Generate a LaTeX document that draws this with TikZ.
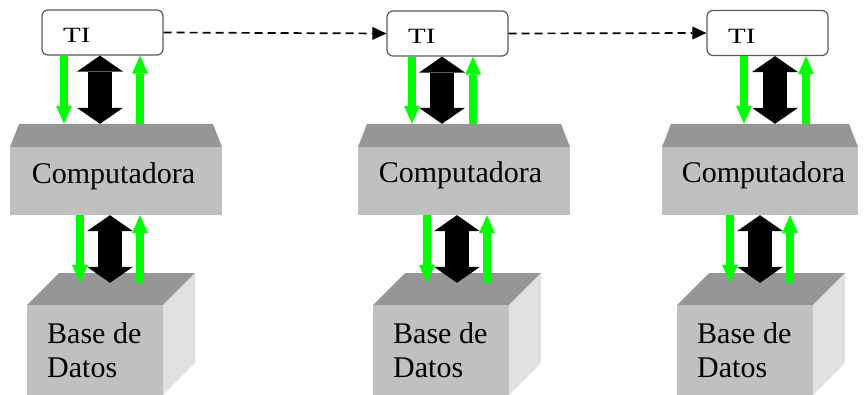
\documentclass[tikz,border=0pt]{standalone}
\usepackage{fontspec}
\setmainfont{Liberation Serif}
\usetikzlibrary{arrows.meta}
\definecolor{topgray}{HTML}{969696}
\definecolor{frontgray}{HTML}{C0C0C0}
\definecolor{sidegray}{HTML}{E0E0E0}
\definecolor{brightgreen}{HTML}{00FF00}
\tikzset{
  tibox/.style={draw=black!65, line width=1.2pt, rounded corners=6pt, fill=white,
    minimum width=121pt, minimum height=45pt, inner sep=0pt},
  titext/.style={anchor=base west, inner sep=0pt, font=\fontsize{29}{30}\selectfont},
  comptext/.style={anchor=base, inner sep=0pt, font=\fontsize{30}{36}\selectfont},
  dbtext/.style={anchor=base west, inner sep=0pt, align=left, font=\fontsize{30}{34}\selectfont},
  compblock/.style={inner sep=0pt, minimum width=#1, minimum height=91pt, path picture={
    \fill[topgray] ([xshift=9pt]path picture bounding box.north west)
      -- ([xshift=-9pt]path picture bounding box.north east)
      -- ([yshift=-23pt]path picture bounding box.north east)
      -- ([yshift=-23pt]path picture bounding box.north west) -- cycle;
    \fill[frontgray] ([yshift=-23pt]path picture bounding box.north west)
      rectangle (path picture bounding box.south east);
  }},
  dbblock/.style={inner sep=0pt, minimum width=168pt, minimum height=122pt, path picture={
    \fill[topgray] ([xshift=32pt]path picture bounding box.north west)
      -- (path picture bounding box.north east)
      -- ([xshift=-32pt,yshift=-32pt]path picture bounding box.north east)
      -- ([yshift=-32pt]path picture bounding box.north west) -- cycle;
    \fill[frontgray] ([yshift=-32pt]path picture bounding box.north west)
      rectangle ([xshift=-32pt]path picture bounding box.south east);
    \fill[sidegray] ([xshift=-32pt,yshift=-32pt]path picture bounding box.north east)
      -- (path picture bounding box.north east)
      -- ([yshift=32pt]path picture bounding box.south east)
      -- ([xshift=-32pt]path picture bounding box.south east) -- cycle;
  }},
  garrow/.style={brightgreen, line width=8pt, -{Triangle[length=18pt,width=16pt,line width=0pt]}},
  barrow/.style={black, line width=24pt,
    {Triangle[length=16pt,width=46pt,line width=0pt]}-{Triangle[length=16pt,width=46pt,line width=0pt]}},
  dasharrow/.style={black, line width=1.7pt, dash pattern=on 8pt off 5pt,
    -{Triangle[length=14pt,width=13pt,line width=0pt]}},
}
\begin{document}
\begin{tikzpicture}[x=1pt,y=-1pt]
\useasboundingbox (0,0) rectangle (866,395);

% blocks
\node[compblock=212pt] (c1) at (116,169.5) {};
\node[compblock=212pt] (c2) at (464,169.5) {};
\node[compblock=196pt] (c3) at (760,169.5) {};
\node[comptext] (c1t) at (113.5,184) {Computadora};
\node[comptext] (c2t) at (460.5,183) {Computadora};
\node[comptext] (c3t) at (763.5,183) {Computadora};

\node[dbblock] (db1) at (111,334) {};
\node[dbblock] (db2) at (457,334) {};
\node[dbblock] (db3) at (761,334) {};
\node[dbtext] (db1t) at (47,377) {Base de\\Datos};
\node[dbtext] (db2t) at (393,377) {Base de\\Datos};
\node[dbtext] (db3t) at (697,377) {Base de\\Datos};

\coordinate (d1) at ([yshift=-10pt]db1.north);
\coordinate (d2) at ([yshift=-10pt]db2.north);
\coordinate (d3) at ([yshift=-10pt]db3.north);

% TI boxes
\node[tibox] (ti1) at (102.5,32.5) {};
\node[tibox] (ti2) at (447.5,33.5) {};
\node[tibox] (ti3) at (767.5,33) {};
\node[titext] (ti1t) at (63,43) {\scalebox{1}[0.75]{TI}};
\node[titext] (ti2t) at (408,44) {\scalebox{1}[0.75]{TI}};
\node[titext] (ti3t) at (728,44) {\scalebox{1}[0.75]{TI}};

% upper arrows
\draw[garrow] (64,0 |- ti1.south) -- (64,0 |- c1.north);
\draw[barrow] (100,0 |- ti1.south) -- (100,0 |- c1.north);
\draw[garrow] (140,0 |- c1.north) -- (140,0 |- ti1.south);

\draw[garrow] (412,0 |- ti2.south) -- (412,0 |- c2.north);
\draw[barrow] (442,0 |- ti2.south) -- (442,0 |- c2.north);
\draw[garrow] (473,0 |- c2.north) -- (473,0 |- ti2.south);

\draw[garrow] (744,0 |- ti3.south) -- (744,0 |- c3.north);
\draw[barrow] (775,0 |- ti3.south) -- (775,0 |- c3.north);
\draw[garrow] (806,0 |- c3.north) -- (806,0 |- ti3.south);

% lower arrows
\draw[garrow] (80,0 |- c1.south) -- (80,0 |- d1);
\draw[barrow] (110,0 |- c1.south) -- (110,0 |- d1);
\draw[garrow] (140,0 |- d1) -- (140,0 |- c1.south);

\draw[garrow] (427,0 |- c2.south) -- (427,0 |- d2);
\draw[barrow] (457,0 |- c2.south) -- (457,0 |- d2);
\draw[garrow] (487,0 |- d2) -- (487,0 |- c2.south);

\draw[garrow] (730,0 |- c3.south) -- (730,0 |- d3);
\draw[barrow] (760,0 |- c3.south) -- (760,0 |- d3);
\draw[garrow] (790,0 |- d3) -- (790,0 |- c3.south);

% dashed connectors
\draw[dasharrow] (ti1.east) -- (ti2.west);
\draw[dasharrow] (ti2.east) -- (ti3.west);
\end{tikzpicture}
\end{document}
